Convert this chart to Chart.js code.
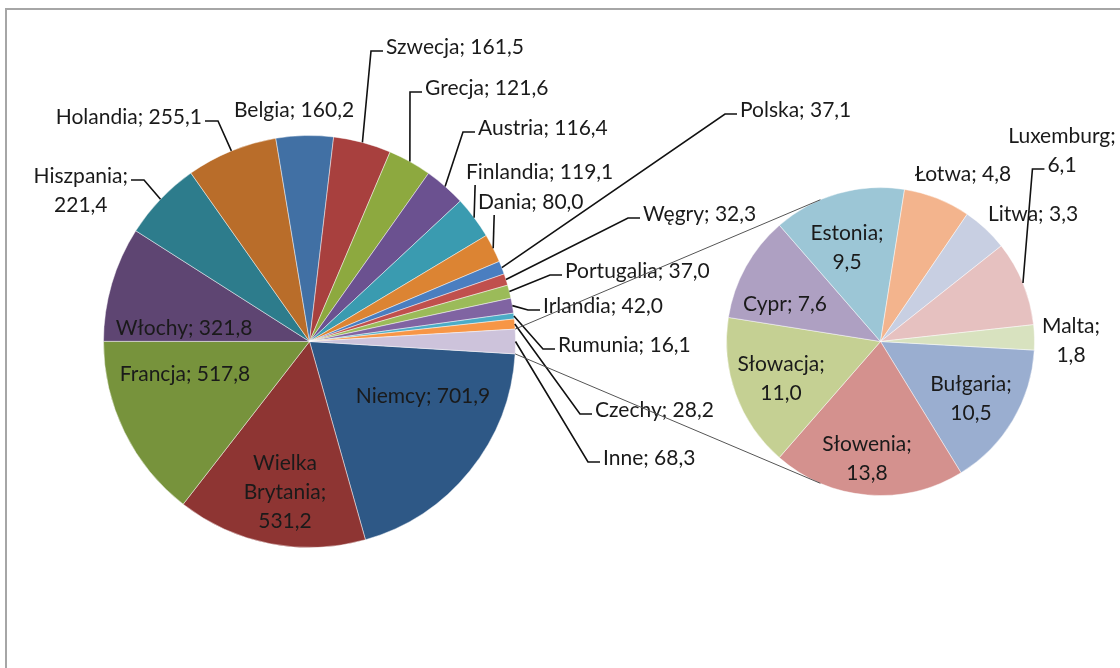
<!DOCTYPE html>
<html lang="pl">
<head>
<meta charset="UTF-8">
<title>Pie of pie</title>
<script src="https://cdn.jsdelivr.net/npm/chart.js@4.4.1/dist/chart.umd.min.js"></script>
<style>
  body { margin: 0; background: #fff; }
  #wrap { position: relative; width: 1120px; height: 668px; overflow: hidden; }
  #frame { position: absolute; left: 5px; top: 8px; right: -4px; bottom: -4px;
           border-top: 2px solid #a6a6a6; border-left: 2px solid #a6a6a6; }
  canvas { position: absolute; left: 0; top: 0; }
</style>
</head>
<body>
<div id="wrap">
  <div id="frame"></div>
  <canvas id="mainPie" width="1120" height="668"></canvas>
  <canvas id="otherPie" width="1120" height="668"></canvas>
</div>
<script>
// main pie, clockwise from the "Inne" slice
const mainNames = ['Niemcy', 'Wielka Brytania', 'Francja', 'Włochy', 'Hiszpania', 'Holandia', 'Belgia',
  'Szwecja', 'Grecja', 'Austria', 'Finlandia', 'Dania', 'Polska', 'Węgry', 'Portugalia', 'Irlandia',
  'Rumunia', 'Czechy', 'Inne'];
const mainValues = [701.9, 531.2, 517.8, 321.8, 221.4, 255.1, 160.2, 161.5, 121.6, 116.4, 119.1, 80.0,
  37.1, 32.3, 37.0, 42.0, 16.1, 28.2, 68.3];
const mainColors = ['#2e5886', '#8e3533', '#77933c', '#5e4572', '#2d7c8c', '#b96d2a', '#4170a4',
  '#a8403e', '#8da93f', '#6b5190', '#3a9bb0', '#dc8433', '#4a7ec0', '#c0504d', '#9bbb59', '#8064a2',
  '#4bacc6', '#f79646', '#cdc3db'];

// second pie: breakdown of "Inne"
const otherNames = ['Bułgaria', 'Słowenia', 'Słowacja', 'Cypr', 'Estonia', 'Łotwa', 'Litwa', 'Luxemburg', 'Malta'];
const otherValues = [10.5, 13.8, 11.0, 7.6, 9.5, 4.8, 3.3, 6.1, 1.8];
const otherColors = ['#9aaed0', '#d4918e', '#c5d093', '#aea0c2', '#9cc6d6', '#f3b48d', '#c8cfe2', '#e6c1c0', '#d8e2bf'];

// label placement: x anchor, y = middle of first text line
const mainLabelPos = [
  {x: 423, y: 395},
  {x: 285, y: 462, wrap: 2},
  {x: 185, y: 373},
  {x: 184, y: 327},
  {x: 128, y: 175, wrap: 1, align: 'right', leader: 'R'},
  {x: 202, y: 116, align: 'right', leader: 'R'},
  {x: 294, y: 109},
  {x: 386, y: 46, align: 'left', leader: 'L'},
  {x: 425, y: 87, align: 'left', leader: 'L'},
  {x: 478, y: 127, align: 'left', leader: 'L'},
  {x: 466, y: 171, align: 'left', leader: 'B'},
  {x: 478, y: 201, align: 'left', leader: 'B'},
  {x: 740, y: 109, align: 'left', leader: 'L'},
  {x: 643, y: 213, align: 'left', leader: 'L'},
  {x: 565, y: 270, align: 'left', leader: 'L'},
  {x: 543, y: 305, align: 'left', leader: 'L'},
  {x: 558, y: 344, align: 'left', leader: 'L'},
  {x: 595, y: 409, align: 'left', leader: 'L'},
  {x: 603, y: 457, align: 'left', leader: 'L'}
];
const otherLabelPos = [
  {x: 971, y: 383, wrap: 1},
  {x: 867, y: 443, wrap: 1},
  {x: 781, y: 363, wrap: 1},
  {x: 785, y: 303},
  {x: 847, y: 232, wrap: 1},
  {x: 963, y: 173},
  {x: 1033, y: 213},
  {x: 1062, y: 135, wrap: 1, leader: 'L', li: 1},
  {x: 1071, y: 325, wrap: 1}
];

const FONT = '21px Lato';
const LINE_H = 29;

function fmt(v) { return v.toFixed(1).replace('.', ','); }

function labelLines(name, value, wrap) {
  const val = fmt(value);
  if (wrap === 2) {
    const parts = name.split(' ');
    parts[parts.length - 1] += ';';
    return parts.concat([val]);
  }
  if (wrap === 1) return [name + ';', val];
  return [name + '; ' + val];
}

function edgePoint(arc) {
  const mid = (arc.startAngle + arc.endAngle) / 2;
  return { x: arc.x + Math.cos(mid) * arc.outerRadius, y: arc.y + Math.sin(mid) * arc.outerRadius };
}

function drawLabels(chart, names, values, layout) {
  const ctx = chart.ctx;
  const arcs = chart.getDatasetMeta(0).data;
  ctx.save();
  ctx.font = FONT;
  ctx.textBaseline = 'middle';
  ctx.textAlign = 'center';
  arcs.forEach((arc, i) => {
    const pos = layout[i];
    const lines = labelLines(names[i], values[i], pos.wrap || 0);
    const widths = lines.map(t => ctx.measureText(t).width);
    const blockW = Math.max(...widths);
    let cx = pos.x;
    if (pos.align === 'left') cx = pos.x + blockW / 2;
    if (pos.align === 'right') cx = pos.x - blockW / 2;

    if (pos.leader) {
      const li = pos.li || 0;
      const ly = pos.y + li * LINE_H + 5;
      const p = edgePoint(arc);
      ctx.beginPath();
      ctx.strokeStyle = '#111';
      ctx.lineWidth = 1.6;
      if (pos.leader === 'L') {
        const left = cx - widths[li] / 2;
        ctx.moveTo(p.x, p.y);
        ctx.lineTo(left - 15, ly);
        ctx.lineTo(left - 3, ly);
      } else if (pos.leader === 'R') {
        const right = cx + widths[li] / 2;
        ctx.moveTo(p.x, p.y);
        ctx.lineTo(right + 16, ly);
        ctx.lineTo(right + 3, ly);
      } else {
        ctx.moveTo(p.x, p.y);
        ctx.lineTo(p.x + 1, pos.y + 14);
      }
      ctx.stroke();
    }
    ctx.fillStyle = '#1a1a1a';
    lines.forEach((t, k) => ctx.fillText(t, cx, pos.y + k * LINE_H + 1));
  });
  ctx.restore();
}

// lines from the "Inne" slice to tangents of the second pie
function drawConnectors(mainChart, otherChart) {
  const ctx = otherChart.ctx;
  const mainArcs = mainChart.getDatasetMeta(0).data;
  const inne = mainArcs[mainArcs.length - 1];
  const ref = otherChart.getDatasetMeta(0).data[0];
  const cx = ref.x, cy = ref.y, r = ref.outerRadius;
  const ends = [
    { a: inne.startAngle, sign: 1 },
    { a: inne.endAngle, sign: -1 }
  ];
  ctx.save();
  ctx.strokeStyle = '#555';
  ctx.lineWidth = 1;
  ends.forEach(e => {
    const px = inne.x + Math.cos(e.a) * inne.outerRadius;
    const py = inne.y + Math.sin(e.a) * inne.outerRadius;
    const d = Math.hypot(px - cx, py - cy);
    const phi = Math.atan2(py - cy, px - cx);
    const t = phi + e.sign * Math.acos(r / d);
    ctx.beginPath();
    ctx.moveTo(px, py);
    ctx.lineTo(cx + Math.cos(t) * r, cy + Math.sin(t) * r);
    ctx.stroke();
  });
  ctx.restore();
}

const mainTotal = mainValues.reduce((a, b) => a + b, 0);
const mainRotation = 90 + mainValues[mainValues.length - 1] / mainTotal * 180;

function pieOptions(padding, rotation) {
  return {
    responsive: false,
    animation: false,
    events: [],
    rotation: rotation,
    layout: { padding: padding },
    plugins: { legend: { display: false }, tooltip: { enabled: false } }
  };
}

const mainChart = new Chart(document.getElementById('mainPie'), {
  type: 'pie',
  data: {
    labels: mainNames,
    datasets: [{ data: mainValues, backgroundColor: mainColors, borderColor: 'rgba(255,255,255,0.45)', borderWidth: 1 }]
  },
  options: pieOptions({ left: 103, top: 135, right: 604, bottom: 120 }, mainRotation),
  plugins: [{
    id: 'mainLabels',
    afterDraw: c => drawLabels(c, mainNames, mainValues, mainLabelPos)
  }]
});

const otherChart = new Chart(document.getElementById('otherPie'), {
  type: 'pie',
  data: {
    labels: otherNames,
    datasets: [{ data: otherValues, backgroundColor: otherColors, borderColor: 'rgba(255,255,255,0.45)', borderWidth: 1 }]
  },
  options: pieOptions({ left: 726, top: 187, right: 85, bottom: 172 }, 93.2),
  plugins: [{
    id: 'otherLabels',
    afterDraw: c => {
      drawConnectors(mainChart, c);
      drawLabels(c, otherNames, otherValues, otherLabelPos);
    }
  }]
});
</script>
</body>
</html>
